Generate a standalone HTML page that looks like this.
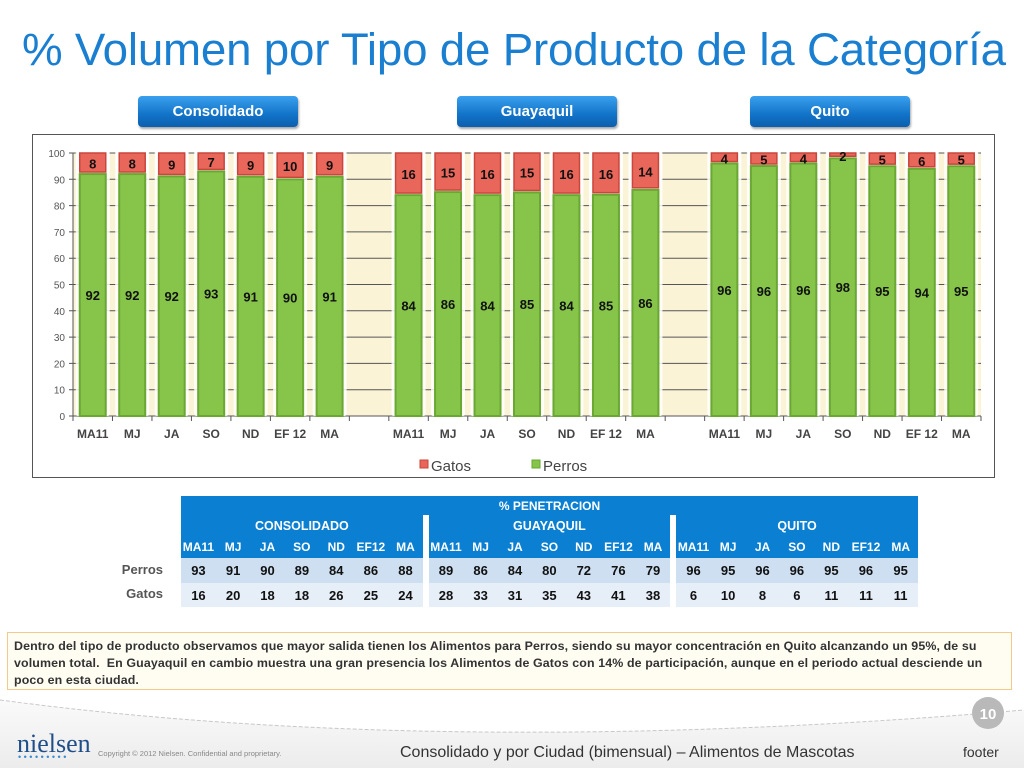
<!DOCTYPE html>
<html><head><meta charset="utf-8"><style>
body{margin:0;width:1024px;height:768px;overflow:hidden;background:#fff;font-family:"Liberation Sans",Arial,sans-serif;position:relative}
.title{position:absolute;left:22px;top:24px;font-size:45.7px;color:#1a7fd0;white-space:nowrap;letter-spacing:-0.2px}
.btn{position:absolute;top:96px;height:31px;width:160px;border-radius:4px;background:linear-gradient(#3aa0ee,#1273c8 60%,#0c5fae);box-shadow:1px 2px 2px rgba(0,0,0,.35);color:#fff;font-weight:bold;font-size:15px;text-align:center;line-height:31px}
.chartbox{position:absolute;left:32px;top:134px;width:963px;height:344px;border:1px solid #555;box-sizing:border-box}
table{position:absolute;left:181px;top:496px;border-collapse:collapse;font-size:12px;font-weight:bold}
td{padding:0;text-align:center}
.note{position:absolute;left:7px;top:632px;width:1005px;height:58px;box-sizing:border-box;border:1px solid #f3c98c;background:#fffcf2;font-size:12.4px;font-weight:bold;color:#333;padding:5px 6px;line-height:17px;letter-spacing:0.12px}
</style></head><body>
<div class="title">% Volumen por Tipo de Producto de la Categoría</div>
<div class="btn" style="left:138px">Consolidado</div>
<div class="btn" style="left:457px">Guayaquil</div>
<div class="btn" style="left:750px">Quito</div>
<div class="chartbox"></div>
<svg id="chart" width="1024" height="768" style="position:absolute;left:0;top:0"></svg>

<div style="position:absolute;left:100px;top:557px;width:81px;height:25px;line-height:25px;text-align:right;padding-right:18px;box-sizing:border-box;color:#555;font-weight:bold;font-size:13px">Perros</div>
<div style="position:absolute;left:100px;top:582px;width:81px;height:24px;line-height:24px;text-align:right;padding-right:18px;box-sizing:border-box;color:#555;font-weight:bold;font-size:13px">Gatos</div>
<table id="tbl"></table>

<div class="note">Dentro del tipo de producto observamos que mayor salida tienen los Alimentos para Perros, siendo su mayor concentración en Quito alcanzando un 95%, de su volumen total.&nbsp; En Guayaquil en cambio muestra una gran presencia los Alimentos de Gatos con 14% de participación, aunque en el periodo actual desciende un poco en esta ciudad.</div>

<svg width="1024" height="78" style="position:absolute;left:0;top:690px">
<defs><linearGradient id="fg" x1="0" y1="0" x2="0" y2="1"><stop offset="0" stop-color="#fafafa"/><stop offset="1" stop-color="#ececec"/></linearGradient></defs>
<path d="M0 10 C300 50 650 52 1024 20 L1024 78 L0 78Z" fill="url(#fg)"/>
<path d="M0 10 C300 50 650 52 1024 20" fill="none" stroke="#c8c8c8" stroke-dasharray="4 2"/>
<circle cx="988" cy="23" r="16" fill="#b9b9b9"/>
<text x="988" y="29" text-anchor="middle" fill="#fff" font-size="15" font-weight="bold" font-family="Liberation Sans">10</text>
<text x="17" y="62" fill="#1f4f8a" font-size="26" font-family="Liberation Serif">nielsen</text>
<text x="18" y="70" fill="#3a8ad0" font-size="9" font-family="Liberation Sans" letter-spacing="2.5">•••••••••</text>
<text x="98" y="66" fill="#888" font-size="7.5" font-family="Liberation Sans">Copyright © 2012 Nielsen. Confidential and proprietary.</text>
<text x="400" y="67" fill="#333" font-size="16" font-family="Liberation Sans">Consolidado y por Ciudad (bimensual) – Alimentos de Mascotas</text>
<text x="963" y="67" fill="#333" font-size="14" font-family="Liberation Sans">footer</text>
</svg>

<script>
const categories=["MA11","MJ","JA","SO","ND","EF 12","MA","MA11","MJ","JA","SO","ND","EF 12","MA","MA11","MJ","JA","SO","ND","EF 12","MA"];
const perros=[92,92,92,93,91,90,91,84,86,84,85,84,85,86,96,96,96,98,95,94,95];
const gatos=[8,8,9,7,9,10,9,16,15,16,15,16,16,14,4,5,4,2,5,6,5];
const yTicks=[0,10,20,30,40,50,60,70,80,90,100];
const tblMonths=["MA11","MJ","JA","SO","ND","EF12","MA"];
const tblGroups=["CONSOLIDADO","GUAYAQUIL","QUITO"];
const tblPerros=[93,91,90,89,84,86,88,89,86,84,80,72,76,79,96,95,96,96,95,96,95];
const tblGatos=[16,20,18,18,26,25,24,28,33,31,35,43,41,38,6,10,8,6,11,11,11];

const NS="http://www.w3.org/2000/svg",svg=document.getElementById('chart');
function el(t,a,p){const e=document.createElementNS(NS,t);for(const k in a)e.setAttribute(k,a[k]);(p||svg).appendChild(e);return e;}
const X0=73,X1=981,Y0=416,Y1=153,nSlots=23;
const sw=(X1-X0)/nSlots;
const slotOf=i=>i+Math.floor(i/7);
const xC=i=>X0+sw*(slotOf(i)+0.5);
const y=v=>Y0-(Y0-Y1)*v/100;
let r=el('rect',{x:X0,y:Y1,width:X1-X0,height:Y0-Y1,fill:'#fbf3d6'});

yTicks.forEach(t=>{
 let g=el('line',{x1:X0-4,x2:X1,y1:y(t),y2:y(t),stroke:'#555','stroke-width':1});
 
 let tx=el('text',{x:X0-8,y:y(t)+4,'text-anchor':'end','font-size':10,fill:'#555'});tx.textContent=t;
 
});
el('line',{x1:X0,x2:X0,y1:Y1,y2:Y0,stroke:'#555'});
for(let s=0;s<=nSlots;s++)el('line',{x1:X0+s*sw,x2:X0+s*sw,y1:Y0,y2:Y0+5,stroke:'#555'});
categories.forEach((c,i)=>{
 const tot=perros[i]+gatos[i],pg=perros[i]/tot*100,cx=xC(i),bw=26;
 el('rect',{x:cx-bw/2-4,y:y(100)-3,width:bw+8,height:Y0-y(100)+3,fill:'#fff','fill-opacity':0.85,rx:2});
 let gb=el('rect',{x:cx-bw/2,y:y(pg),width:bw,height:Y0-y(pg),fill:'#86c44a',stroke:'#6aa733','stroke-width':2});
 
 el('rect',{x:cx-bw/2-3,y:y(100)-2,width:bw+6,height:y(pg)-y(100)+1,fill:'#fff'});
 let rb=el('rect',{x:cx-bw/2,y:y(100),width:bw,height:y(pg)-y(100)-2,fill:'#e8665a',stroke:'#c9463c','stroke-width':1.5});
 
 let t1=el('text',{x:cx,y:(y(pg)+Y0)/2+5,'text-anchor':'middle','font-size':13,'font-weight':'bold',fill:'#111'});t1.textContent=perros[i];
 
 let t2=el('text',{x:cx,y:Math.max((y(pg)+y(100))/2+5,y(100)+8),'text-anchor':'middle','font-size':13,'font-weight':'bold',fill:'#111'});t2.textContent=gatos[i];
 
 let t3=el('text',{x:cx,y:438,'text-anchor':'middle','font-size':12,'font-weight':'bold',fill:'#444'});t3.textContent=c;
 
});
[[420,'#e8665a','#c9463c','Gatos'],[532,'#86c44a','#6aa733','Perros']].forEach(l=>{
 let g=el('g',{});
 el('rect',{x:l[0],y:460,width:8,height:8,fill:l[1],stroke:l[2]},g);
 let t=el('text',{x:l[0]+11,y:471,'font-size':15,fill:'#444'},g);t.textContent=l[3];
});
const T=document.getElementById('tbl');
let h='<tr style="background:#0b7fd1;color:#fff;height:19px"><td colspan="23">% PENETRACION</td></tr>';
h+='<tr style="background:#0b7fd1;color:#fff;height:21px">';
tblGroups.forEach((g,k)=>{h+='<td colspan="7" style="font-size:12.5px">'+g+'</td>';if(k<2)h+='<td style="width:6px;background:#fff"></td>';});
h+='</tr><tr style="background:#0b7fd1;color:#fff;height:22px">';
for(let k=0;k<3;k++){tblMonths.forEach(m=>h+='<td style="width:35px">'+m+'</td>');if(k<2)h+='<td style="background:#fff"></td>';}
h+='</tr>';
[[tblPerros,'#cddff1',25],[tblGatos,'#e6eef8',24]].forEach(row=>{
 h+='<tr style="background:'+row[1]+';height:'+row[2]+'px;font-size:13px;color:#111">';
 row[0].forEach((v,i)=>{h+='<td>'+v+'</td>';if(i==6||i==13)h+='<td style="background:#fff"></td>';});
 h+='</tr>';
});
T.innerHTML=h;
T.style.width='737px';
</script>
</body></html>
